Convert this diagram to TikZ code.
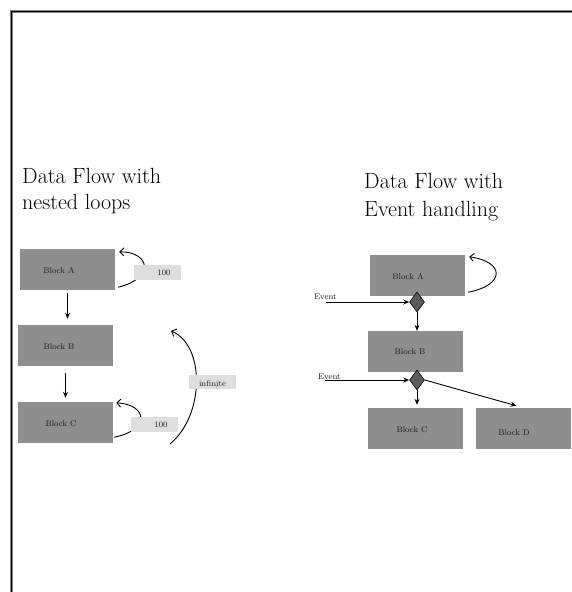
\documentclass[tikz,border=0pt]{standalone}
\usetikzlibrary{shapes.geometric,arrows.meta}
\definecolor{blockgray}{HTML}{8E8E8E}
\definecolor{labgray}{HTML}{DEDEDE}
\definecolor{diagray}{HTML}{5C5C5C}
\definecolor{txtc}{HTML}{1A1A1A}
\begin{document}
\begin{tikzpicture}[x=1pt,y=-1pt,
  title/.style={font=\fontsize{22}{26}\selectfont, inner sep=0pt, text=black},
  small/.style={font=\fontsize{8.3}{9}\selectfont, text=txtc, inner sep=0pt},
  blk/.style={rectangle, fill=blockgray, minimum width=95pt, minimum height=41pt, inner sep=0pt},
  labbox/.style={rectangle, fill=labgray, minimum width=47pt, minimum height=15pt, inner sep=0pt},
  dia/.style={diamond, draw=black, fill=diagray, minimum width=15pt, minimum height=20pt, inner sep=0pt, line width=0.6pt},
  arr/.style={line width=0.9pt, -{Stealth[length=6pt,width=5pt]}},
  loopc/.style={line width=0.9pt, -{Straight Barb[length=4pt,width=8pt]}}
]
\useasboundingbox (0,0) rectangle (572,592);
\fill[white] (0,0) rectangle (572,592);
\draw[line width=2.4pt, gray] (11.5,592) -- (11.5,11.5) -- (572,11.5);
\draw[line width=1.6pt] (11.5,592) -- (11.5,11.5) -- (572,11.5);

% titles
\node[title, anchor=base west] (tl1) at (22,183) {Data Flow with};
\node[title, anchor=base west] (tl2) at (22,209) {nested loops};
\node[title, anchor=base west] (tr1) at (364,188) {Data Flow with};
\node[title, anchor=base west] (tr2) at (364,216) {Event handling};

% left blocks
\node[blk, label={[small, xshift=-8.5pt, yshift=-1.5pt]center:Block A}] (A) at (67.5,269.5) {};
\node[blk, label={[small, xshift=-6.5pt, yshift=-1.5pt]center:Block B}] (B) at (65.5,345.5) {};
\node[blk, label={[small, xshift=-4.5pt, yshift=-1.5pt]center:Block C}] (C) at (65.5,422.5) {};

\draw[arr, shorten <=3pt, shorten >=6pt] (A.south) -- (A.south |- B.north);
\draw[arr, shorten <=7pt, shorten >=4pt] (B.south) -- (B.south |- C.north);

% loops (left)
\draw[loopc] ([shift={(3,-3)}]A.south east) .. controls +(37,-9) and +(31,0) .. ([shift={(4,3)}]A.north east);
\draw[loopc] ([shift={(1,-6)}]C.south east) .. controls +(36,-7) and +(32,2) .. ([shift={(3,1)}]C.north east);
\coordinate (inf1) at (170,444);
\coordinate (inf2) at (171,331);
\draw[loopc] (inf1) .. controls +(35,-29) and +(34,14) .. (inf2);

\node[labbox, label={[small, xshift=6.5pt, yshift=-0.5pt]center:100}] (la) at (157.5,272.5) {};
\node[labbox, label={[small, xshift=6.5pt, yshift=-0.5pt]center:100}] (lc) at (154.5,424.5) {};
\node[labbox, minimum height=14pt, label={[small, yshift=-2pt]center:infinite}] (li) at (212.5,382) {};

% right blocks
\node[blk, label={[small, xshift=-9.5pt, yshift=-1.5pt]center:Block A}] (RA) at (417.5,275.5) {};
\node[blk, label={[small, xshift=-5.5pt, yshift=-0.5pt]center:Block B}] (RB) at (415.5,351.5) {};
\node[blk, label={[small, xshift=-3.5pt, yshift=-1.5pt]center:Block C}] (RC) at (415.5,428.5) {};
\node[blk, label={[small, xshift=-9.5pt, yshift=-4.5pt]center:Block\,\,D}] (RD) at (523.5,428.5) {};

\draw[loopc] ([shift={(3,-4)}]RA.south east) .. controls +(37,-7) and +(36,5) .. ([shift={(4,2)}]RA.north east);

\node[dia] (d1) at (417,302) {};
\node[dia] (d2) at (417,380) {};

\node[small, anchor=base west] (ev1) at (314,299) {Event};
\node[small, anchor=base west] (ev2) at (318,379) {Event};
\coordinate (e1) at (326,302);
\coordinate (e2) at (325,380);

\draw[arr] (e1) -- (d1.west);
\draw[arr] (e2) -- (d2.west);
\draw[arr] (d1.south) -- (d1.south |- RB.north);
\draw[arr, shorten >=3pt] (d2.south) -- (d2.south |- RC.north);
\draw[arr] (d2.east) -- ([shift={(-7,-2)}]RD.north);
\end{tikzpicture}
\end{document}
